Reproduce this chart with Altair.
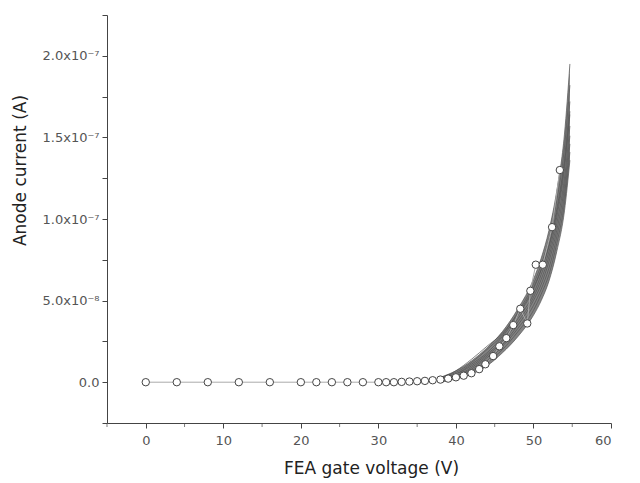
import altair as alt
import pandas as pd

# Measured data (open circles): gate voltage (V) and anode current (units of 1e-7 A)
meas_v = [0, 4, 8, 12, 16, 20, 22, 24, 26, 28, 30, 31, 32, 33, 34, 35, 36, 37, 38, 39,
          40, 41, 42, 43, 43.8, 44.8, 45.6, 46.5, 47.4, 48.3, 49.2, 49.6, 50.3, 51.2, 52.4, 53.4]
meas_i = [0, 0, 0, 0, 0, 0, 0, 0, 0, 0, 0, 0, 0, 0.002, 0.004, 0.006, 0.008, 0.012, 0.016, 0.022,
          0.03, 0.04, 0.055, 0.08, 0.11, 0.16, 0.22, 0.27, 0.35, 0.45, 0.36, 0.56, 0.72, 0.72, 0.95, 1.30]

# Fitted curves (grey band), sampled at these voltages
fit_v = [38, 40, 42, 44, 46, 48, 50, 51, 52, 53, 54, 54.7]
fit_curves = [
    [0.03, 0.07, 0.13, 0.21, 0.31, 0.45, 0.63, 0.76, 0.93, 1.17, 1.52, 1.95],
    [0.03, 0.06, 0.12, 0.20, 0.29, 0.43, 0.60, 0.72, 0.88, 1.11, 1.44, 1.82],
    [0.02, 0.05, 0.11, 0.18, 0.28, 0.41, 0.57, 0.69, 0.84, 1.06, 1.37, 1.72],
    [0.02, 0.05, 0.10, 0.17, 0.26, 0.39, 0.54, 0.66, 0.80, 1.01, 1.31, 1.64],
    [0.02, 0.04, 0.09, 0.16, 0.25, 0.37, 0.52, 0.63, 0.77, 0.97, 1.25, 1.57],
    [0.01, 0.04, 0.08, 0.15, 0.23, 0.35, 0.50, 0.60, 0.74, 0.93, 1.20, 1.51],
    [0.01, 0.03, 0.07, 0.13, 0.22, 0.33, 0.47, 0.57, 0.70, 0.89, 1.15, 1.46],
    [0.01, 0.03, 0.06, 0.12, 0.20, 0.31, 0.44, 0.54, 0.66, 0.85, 1.10, 1.41],
    [0.00, 0.02, 0.05, 0.10, 0.18, 0.28, 0.41, 0.50, 0.62, 0.80, 1.05, 1.36],
    [0.02, 0.07, 0.14, 0.22, 0.30, 0.42, 0.58, 0.69, 0.83, 1.04, 1.34, 1.66],
]

x_major = [0, 10, 20, 30, 40, 50, 60]
x_minor = [-5, 5, 15, 25, 35, 45, 55]
y_ticks = [-0.25, 0, 0.25, 0.5, 0.75, 1.0, 1.25, 1.5, 1.75, 2.0, 2.25]

meas = pd.DataFrame({"v": meas_v, "i": meas_i, "k": range(len(meas_v))})
rows = []
for ci, c in enumerate(fit_curves):
    for v, i in zip(fit_v, c):
        rows.append({"curve": ci, "v": v, "i": i})
fits = pd.DataFrame(rows)
band = pd.DataFrame({"v": fit_v, "lo": fit_curves[8], "hi": fit_curves[0]})
minor = pd.DataFrame({"v": x_minor})

font = "DejaVu Sans"
xscale = alt.Scale(domain=[-5, 60], nice=False, zero=False)
yscale = alt.Scale(domain=[-0.25, 2.25], nice=False, zero=False)

xaxis = alt.Axis(
    title="FEA gate voltage (V)", values=x_major, format="d",
    labelOverlap=False,
    grid=False, domainColor="#444", tickColor="#444", tickSize=5,
    labelColor="#555", labelFont=font, labelFontSize=13, labelPadding=6,
    titleFont=font, titleFontSize=17, titleFontWeight="normal", titleColor="#222",
    titleX=264, titleY=50, titleBaseline="alphabetic",
)
yaxis = alt.Axis(
    title="Anode current (A)", values=y_ticks,
    labelExpr="datum.value == 0 ? '0.0' : datum.value == 0.5 ? '5.0x10⁻⁸' : datum.value == 1 ? '1.0x10⁻⁷' : datum.value == 1.5 ? '1.5x10⁻⁷' : datum.value == 2 ? '2.0x10⁻⁷' : ''",
    labelOverlap=False,
    grid=False, domainColor="#444", tickColor="#444", tickSize=5,
    labelColor="#555", labelFont=font, labelFontSize=13, labelPadding=3,
    titleFont=font, titleFontSize=17, titleFontWeight="normal", titleColor="#222",
    titleX=-78, titleY=155, titleBaseline="bottom",
)

area = alt.Chart(band).mark_area(color="#5a5a5a", opacity=0.75, interpolate="monotone").encode(
    x=alt.X("v:Q", scale=xscale, axis=xaxis),
    y=alt.Y("lo:Q", scale=yscale, axis=yaxis),
    y2="hi:Q",
)
lines = alt.Chart(fits).mark_line(color="#555", strokeWidth=0.8, opacity=0.9, interpolate="monotone").encode(
    x="v:Q", y="i:Q", detail="curve:N",
)
conn = alt.Chart(meas).mark_line(color="#aaa", strokeWidth=1).encode(
    x="v:Q", y="i:Q", order="k:Q",
)
pts = alt.Chart(meas).mark_point(shape="circle", filled=True, fill="white", stroke="#444",
                                 strokeWidth=1, size=55, opacity=1).encode(
    x="v:Q", y="i:Q",
)
minor_ticks = alt.Chart(minor).mark_tick(color="#444", thickness=1, size=4, yOffset=2,
                                         orient="vertical").encode(
    x="v:Q", y=alt.datum(-0.25),
)

chart = alt.layer(area, lines, conn, pts, minor_ticks).properties(
    width=504, height=408,
    autosize=alt.AutoSizeParams(type="none"),
    padding={"left": 99, "top": 7, "right": 21, "bottom": 60},
).configure_view(stroke=None)

chart.save("out.html", embed_options={"renderer": "svg", "actions": False})
